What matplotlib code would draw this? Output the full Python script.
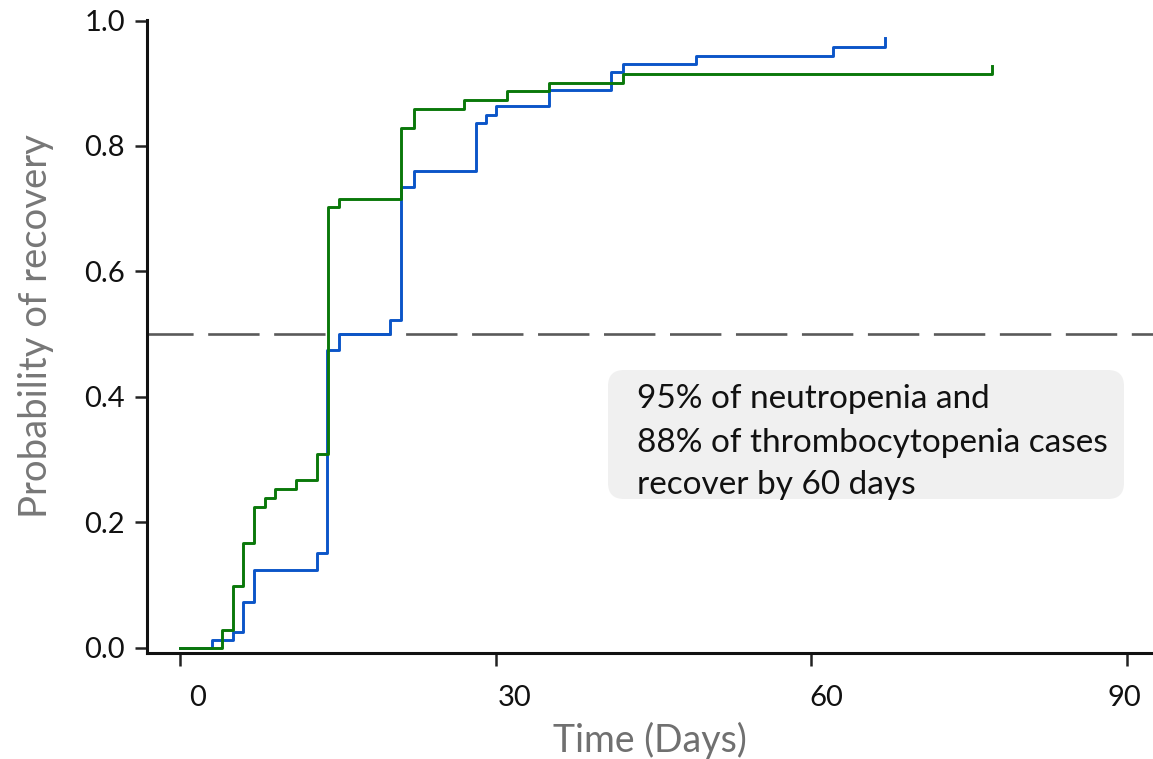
import matplotlib
matplotlib.use("Agg")
import matplotlib.pyplot as plt
from matplotlib.patches import FancyBboxPatch
from matplotlib.transforms import ScaledTranslation, IdentityTransform

plt.rcParams['font.family'] = ['Lato', 'DejaVu Sans']

# Neutropenia (blue) Kaplan-Meier style recovery curve
neut_days = [0, 3, 5, 6, 7, 13, 14, 15.1, 20, 21.05, 22.2, 28.1, 29.1, 30, 35.1, 41.0, 42.1, 49.1, 62.1, 67.05]
neut_prob = [0, 0.013, 0.026, 0.074, 0.124, 0.151, 0.475, 0.500, 0.523, 0.735, 0.760, 0.836, 0.849, 0.863, 0.890, 0.918, 0.930, 0.943, 0.958, 0.972]

# Thrombocytopenia (green)
thromb_days = [0, 3.95, 5.05, 6.0, 7.0, 8.05, 9.0, 11.0, 13.0, 14.05, 15.1, 21.05, 22.2, 27.0, 31.05, 35.1, 42.1, 77.2]
thromb_prob = [0, 0.029, 0.099, 0.168, 0.224, 0.239, 0.254, 0.268, 0.309, 0.702, 0.716, 0.828, 0.859, 0.873, 0.887, 0.900, 0.914, 0.927]

x_ticks = [0, 30, 60, 90]
x_tick_labels = ['0', '30', '60', '90']
y_ticks = [0.0, 0.2, 0.4, 0.6, 0.8, 1.0]
y_tick_labels = ['0.0', '0.2', '0.4', '0.6', '0.8', '1.0']
median_level = 0.5

note_lines = ["95% of neutropenia and", "88% of thrombocytopenia cases", "recover by 60 days"]

W, H = 1153, 759
fig = plt.figure(figsize=(W / 100, H / 100), dpi=100)
ax = fig.add_axes([147 / W, 106 / H, 1 - 147 / W, (653 - 20) / H])

ax.set_xlim(-3.14, 92.5)
ax.set_ylim(-0.008, 1.0008)

lw_d = 1.9
ax.axhline(median_level, color='#5a5a5a', lw=lw_d,
           linestyle=(2.0, (37.0 / lw_d, 10.5 / lw_d)), zorder=2)

ax.step(neut_days, neut_prob, where='post', color='#0b55c8', lw=2.1, zorder=3)
ax.step(thromb_days, thromb_prob, where='post', color='#0a780a', lw=2.1, zorder=4)

for s in ['top', 'right']:
    ax.spines[s].set_visible(False)
for s in ['left', 'bottom']:
    ax.spines[s].set_linewidth(2.2)
    ax.spines[s].set_color('#111111')

ax.set_xticks(x_ticks)
ax.set_xticklabels(x_tick_labels)
ax.set_yticks(y_ticks)
ax.set_yticklabels(y_tick_labels)
ax.tick_params(axis='both', length=9, width=1.8, color='#222222',
               labelsize=21, labelcolor='#111111')
ax.tick_params(axis='x', pad=14)
ax.tick_params(axis='y', pad=7)

offsets_px = [18, 19, 15, -2]
for lab, dx in zip(ax.get_xticklabels(), offsets_px):
    lab.set_transform(lab.get_transform() + ScaledTranslation(dx / 100, 0, fig.dpi_scale_trans))

ax.set_xlabel('Time (Days)', fontsize=27, color='#707070')
ax.set_ylabel('Probability of recovery', fontsize=27.5, color='#777777')
ax.xaxis.set_label_coords(0.5, -0.108)
ax.yaxis.set_label_coords(-0.092, 0.517)

# annotation box (pixel coordinates, origin bottom-left)
box = FancyBboxPatch((608, H - 499), 1124 - 608, 499 - 370,
                     boxstyle="round,pad=0,rounding_size=16",
                     transform=IdentityTransform(), facecolor='#f0f0f0',
                     edgecolor='none', zorder=5)
fig.patches.append(box)
baselines = [408, 452, 494]
for line, yb in zip(note_lines, baselines):
    fig.text(637 / W, (H - yb) / H, line, fontsize=24, color='#111111',
             ha='left', va='baseline', zorder=6)

fig.savefig('out.png', dpi=100)
